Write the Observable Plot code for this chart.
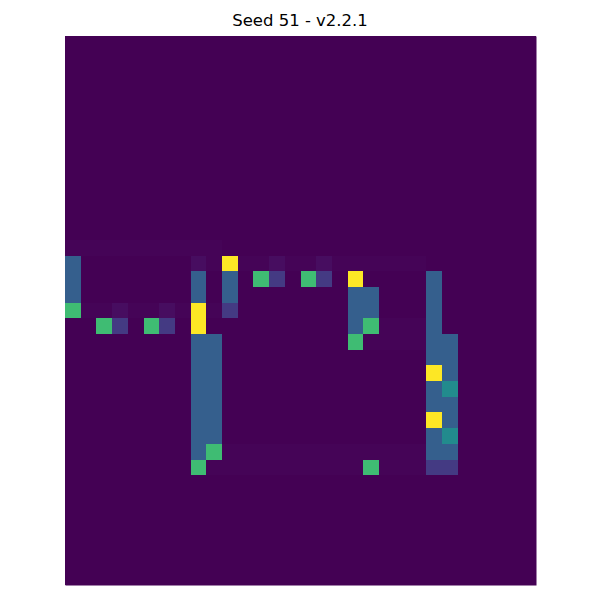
<!DOCTYPE html>
<html>
<head>
<meta charset="utf-8">
<script src="https://cdn.jsdelivr.net/npm/d3@7"></script>
<script src="https://cdn.jsdelivr.net/npm/@observablehq/plot@0.6"></script>
<style>
  body { margin: 0; background: #fff; }
  #title { position: relative; width: 600px; height: 36px; font-family: "DejaVu Sans", sans-serif; font-size: 16.5px; }
  #title span { position: absolute; left: 0; width: 600px; top: 13px; line-height: 16.5px; text-align: center; color: #000; }
  svg { display: block; }
</style>
</head>
<body>
<div id="title"><span>Seed 51 - v2.2.1</span></div>
<div id="chart"></div>
<script>
const titleText = "Seed 51 - v2.2.1";
const nRows = 35;
const nCols = 30;
const firstDataRow = 13;

const row13 = [.01,.01,.01,.01,.01,.01,.01,.01,.01,.01, 0,0,0,0,0,0,0,0,0,0, 0,0,0,0,0,0,0,0,0,0];
const row14 = [.3,0,0,0,0,0,0,0,.035,.01, 1,.01,.01,.035,.01,.01,.035,.01,.01,.01, .01,.01,.01,0,0,0,0,0,0,0];
const row15 = [.3,0,0,0,0,0,0,0,.3,0, .3,0,.69,.17,0,.69,.17,0,1,0, 0,0,0,.3,0,0,0,0,0,0];
const row16 = [.3,0,0,0,0,0,0,0,.3,0, .3,0,0,0,0,0,0,0,.3,.3, 0,0,0,.3,0,0,0,0,0,0];
const row17 = [.69,.01,.01,.035,.01,.01,.035,.01,1,.01, .17,0,0,0,0,0,0,0,.3,.3, 0,0,0,.3,0,0,0,0,0,0];
const row18 = [0,0,.69,.17,0,.69,.17,0,1,0, 0,0,0,0,0,0,0,0,.3,.69, .01,.01,.01,.3,0,0,0,0,0,0];
const row19 = [0,0,0,0,0,0,0,0,.3,.3, 0,0,0,0,0,0,0,0,.69,.01, .01,.01,.01,.3,.3,0,0,0,0,0];
const row20 = [0,0,0,0,0,0,0,0,.3,.3, 0,0,0,0,0,0,0,0,0,0, 0,0,0,.3,.3,0,0,0,0,0];
const row21 = [0,0,0,0,0,0,0,0,.3,.3, 0,0,0,0,0,0,0,0,0,0, 0,0,0,1,.3,0,0,0,0,0];
const row22 = [0,0,0,0,0,0,0,0,.3,.3, 0,0,0,0,0,0,0,0,0,0, 0,0,0,.3,.48,0,0,0,0,0];
const row23 = [0,0,0,0,0,0,0,0,.3,.3, 0,0,0,0,0,0,0,0,0,0, 0,0,0,.3,.3,0,0,0,0,0];
const row24 = [0,0,0,0,0,0,0,0,.3,.3, 0,0,0,0,0,0,0,0,0,0, 0,0,0,1,.3,0,0,0,0,0];
const row25 = [0,0,0,0,0,0,0,0,.3,.3, 0,0,0,0,0,0,0,0,0,0, 0,0,0,.3,.48,0,0,0,0,0];
const row26 = [0,0,0,0,0,0,0,0,.3,.69, .01,.01,.01,.01,.01,.01,.01,.01,.01,.01, .01,.01,.01,.3,.3,0,0,0,0,0];
const row27 = [0,0,0,0,0,0,0,0,.69,.01, .01,.01,.01,.01,.01,.01,.01,.01,.01,.69, .01,.01,.01,.17,.17,0,0,0,0,0];

const dataRows = [row13,row14,row15,row16,row17,row18,row19,row20,row21,row22,row23,row24,row25,row26,row27];

const cells = [];
for (let r = 0; r < nRows; r++) {
  const src = (r >= firstDataRow && r < firstDataRow + dataRows.length) ? dataRows[r - firstDataRow] : null;
  for (let c = 0; c < nCols; c++) {
    cells.push({row: r, col: c, value: src ? src[c] : 0});
  }
}

const chart = Plot.plot({
  width: 600,
  height: 564,
  marginLeft: 65,
  marginRight: 64,
  marginTop: 0,
  marginBottom: 15,
  style: {background: "white"},
  x: {type: "band", domain: d3.range(nCols), padding: 0, round: false, axis: null},
  y: {type: "band", domain: d3.range(nRows), padding: 0, round: false, axis: null},
  color: {type: "linear", scheme: "viridis", domain: [0, 1]},
  marks: [
    Plot.frame({fill: d3.interpolateViridis(0), stroke: null}),
    Plot.cell(cells, {x: "col", y: "row", fill: "value", inset: 0, shapeRendering: "crispEdges"})
  ]
});
document.getElementById("chart").appendChild(chart);
</script>
</body>
</html>
